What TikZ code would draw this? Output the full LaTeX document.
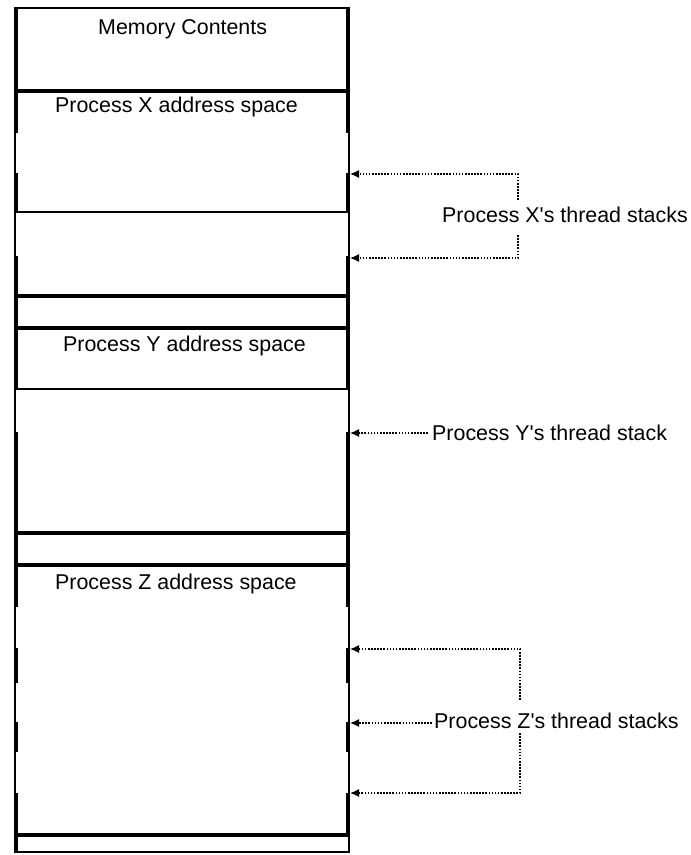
\documentclass[tikz,border=0pt]{standalone}
\usepackage{fontspec}
% straight apostrophes: no TeX quote mapping
\setmainfont{Liberation Sans}[Ligatures=TeXOff]
\usetikzlibrary{arrows.meta}

\tikzset{
  wall/.style={line width=2.2pt},
  endline/.style={line width=1.8pt},
  rim/.style={line width=3.6pt},
  divider/.style={line width=3.2pt},
  seam/.style={line width=1.2pt},
  lbl/.style={anchor=base west, inner sep=0pt, font=\fontsize{21.4}{24}\selectfont},
  pointer/.style={line width=1.4pt, dash pattern=on 1.6pt off 1.5pt,
    -{Latex[length=9pt,width=8pt]}}
}

\begin{document}
\begin{tikzpicture}[x=1pt, y=-1pt]
  \useasboundingbox (0,0) rectangle (691,855);

  % outer memory column: side walls, top and bottom
  \draw[wall] (15,7) -- (15,853);
  \draw[wall] (349,7) -- (349,853);
  \draw[endline] (14,8) -- (350,8);
  \draw[endline] (14,852) -- (350,852);

  % heavier stretches of the side walls (region borders)
  \foreach \a/\b in {8/133, 173/213, 256/389, 432/607, 648/683, 722/752, 793/835}{
    \draw[rim] (15.8,\a) -- (15.8,\b);
    \draw[rim] (348.2,\a) -- (348.2,\b);
  }
  \draw[rim] (15.8,835) -- (15.8,852);

  % region boundaries
  \foreach \y in {91, 296, 328, 533, 565, 835}{
    \draw[divider] (14,\y) -- (350,\y);
  }
  \draw[seam] (14,212) -- (350,212);
  \draw[seam] (14,389) -- (350,389);

  % region titles
  \node[lbl] (mem) at (98,34)  {Memory Contents};
  \node[lbl] (px)  at (55,112) {Process X address space};
  \node[lbl] (py)  at (63,351) {Process Y address space};
  \node[lbl] (pz)  at (55,589) {Process Z address space};

  % side labels
  \node[lbl] (xs) at (442,222) {Process X's thread stacks};
  \node[lbl] (ys) at (432,440) {Process Y's thread stack};
  \node[lbl] (zs) at (434,728) {Process Z's thread stacks};

  % stack locations on the column edge
  \coordinate (xa) at (350,174);
  \coordinate (xb) at (350,258);
  \coordinate (ya) at (350,433);
  \coordinate (za) at (350,649);
  \coordinate (zb) at (350,723);
  \coordinate (zc) at (350,793);

  % bends of the bracket connectors
  \coordinate (xt) at (518,200);
  \coordinate (xu) at (518,235);
  \coordinate (yt) at (428,433);
  \coordinate (zt) at (520,700);
  \coordinate (zm) at (432,723);
  \coordinate (zu) at (520,733);

  % connectors
  \draw[pointer] (xt) |- (xa);
  \draw[pointer] (xu) |- (xb);
  \draw[pointer] (yt) -- (ya);
  \draw[pointer] (zt) |- (za);
  \draw[pointer] (zm) -- (zb);
  \draw[pointer] (zu) |- (zc);
\end{tikzpicture}
\end{document}
